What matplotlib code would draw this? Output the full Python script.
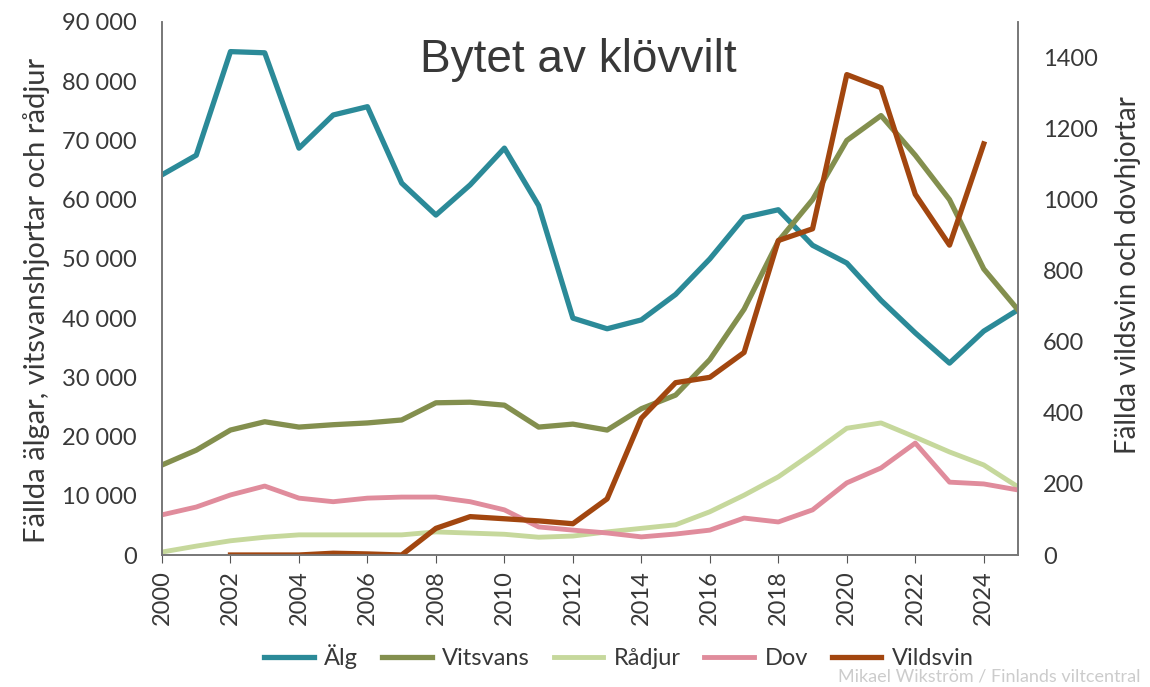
import matplotlib.pyplot as plt
from matplotlib.ticker import FuncFormatter

# Data
years = list(range(2000, 2026))
alg = [64200, 67500, 85000, 84800, 68700, 74300, 75700, 62800, 57400, 62500,
       68700, 59000, 40000, 38200, 39700, 44000, 50000, 57000, 58300, 52300,
       49300, 43000, 37500, 32400, 37800, 41400]
vitsvans = [15200, 17700, 21100, 22500, 21600, 22000, 22300, 22800, 25700, 25800,
            25300, 21600, 22100, 21100, 24700, 27000, 33000, 41500, 53000, 60000,
            70000, 74200, 67500, 60000, 48300, 41400]
radjur = [500, 1500, 2400, 3000, 3400, 3400, 3400, 3400, 3900, 3700,
          3500, 3000, 3200, 3900, 4500, 5100, 7300, 10100, 13200, 17200,
          21400, 22300, 19900, 17400, 15200, 11500]
dov = [113, 135, 169, 194, 160, 150, 160, 163, 163, 150,
       127, 79, 70, 62, 51, 59, 70, 104, 93, 127,
       203, 245, 315, 205, 200, 183]
vild_years = list(range(2002, 2025))
vildsvin = [0, 0, 0, 5, 3, 0, 75, 108, 102, 96, 88, 158, 385, 485, 500, 570,
            885, 918, 1352, 1315, 1015, 872, 1157]

plt.rcParams['font.family'] = ['Lato', 'DejaVu Sans']
text_col = '#383838'

fig = plt.figure(figsize=(11.5, 6.87), dpi=100)
ax = fig.add_axes([162/1150, 1-555/687, (1018-162)/1150, (555-22)/687])
ax2 = ax.twinx()

l1, = ax.plot(years, alg, color='#2B8A98', lw=3.8, label='Älg')
l2, = ax.plot(years, vitsvans, color='#838F4E', lw=3.8, label='Vitsvans')
l3, = ax.plot(years, radjur, color='#C6D89C', lw=3.5, label='Rådjur')
l4, = ax2.plot(years, dov, color='#E08C9C', lw=3.5, label='Dov')
l5, = ax2.plot(vild_years, vildsvin, color='#A2460F', lw=3.8, label='Vildsvin')

ax.set_xlim(2000, 2025)
ax.set_ylim(0, 90000)
ax2.set_ylim(0, 1500)
ax.set_xticks(range(2000, 2025, 2))
ax.set_yticks(range(0, 90001, 10000))
ax2.set_yticks(range(0, 1401, 200))
ax.yaxis.set_major_formatter(FuncFormatter(lambda v, p: f'{int(v):,}'.replace(',', ' ')))

ax.tick_params(axis='x', labelrotation=90, labelsize=17, colors='#555555',
               labelcolor=text_col, length=6, pad=5)
ax.tick_params(axis='y', length=0, labelsize=17, labelcolor=text_col, pad=18)
ax2.tick_params(axis='y', length=0, labelsize=17, labelcolor=text_col, pad=18)

for a in (ax, ax2):
    a.spines['top'].set_visible(False)
    for s in ('left', 'right', 'bottom'):
        a.spines[s].set_color('#777777')
        a.spines[s].set_linewidth(1.2)

ax.set_ylabel('Fällda älgar, vitsvanshjortar och rådjur', fontsize=21, color=text_col)
ax.yaxis.set_label_coords(-0.131, 0.478)
ax2.set_ylabel('Fällda vildsvin och dovhjortar', fontsize=20, color=text_col)
ax2.yaxis.set_label_coords(1.113, 0.525)

fig.text(578/1150, 1-60/687, 'Bytet av klövvilt', fontsize=33, family='Liberation Sans',
         color=text_col, ha='center', va='center')

fig.legend(handles=[l1, l2, l3, l4, l5], loc='center', bbox_to_anchor=(619/1150, 1-657/687),
           ncol=5, frameon=False, fontsize=17, handlelength=2.1, columnspacing=1.0,
           handletextpad=0.45, labelcolor=text_col)

fig.text(1140/1150, 2/687, 'Mikael Wikström / Finlands viltcentral', fontsize=13,
         color='#cccccc', ha='right', va='bottom')

fig.savefig('out.png', dpi=100)
